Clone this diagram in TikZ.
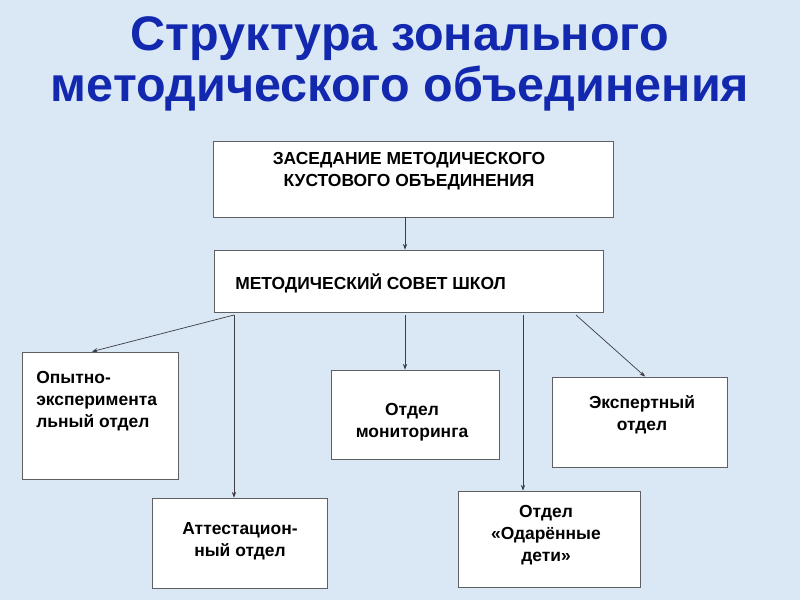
\documentclass[tikz,border=0pt]{standalone}
\usepackage{fontspec}
\setmainfont{Liberation Sans}
\usepackage{xcolor}
\usepackage{tikz}
\usetikzlibrary{arrows.meta, positioning, calc}
\definecolor{mybg}{RGB}{218,231,245}
\definecolor{mytitle}{RGB}{18,40,175}
\definecolor{myframe}{RGB}{95,95,100}
\definecolor{mydark}{RGB}{60,60,65}
\tikzset{
  block/.style={rectangle, draw=myframe, fill=white, line width=0.6pt,
    inner sep=0pt},
  blocktext/.style={font=\bfseries\fontsize{12.4}{15.8}\selectfont,
    align=center, inner sep=0pt, text=black},
  arrow/.style={-{Stealth[length=4pt, width=3pt]}, line width=0.5pt, color=mydark}
}

\begin{document}
\begin{tikzpicture}[x=0.025cm, y=-0.025cm]
  % background
  \fill[mybg] (0, 0) rectangle (800, 600);
  \useasboundingbox (0, 0) rectangle (800, 600);

  % Title
  \node[font=\bfseries\fontsize{34.5}{36.5}\selectfont, text=mytitle, align=center]
    (title) at (400, 64) {Структура зонального\\методического объединения};

  % Zasedanie
  \node[block, minimum width=10cm, minimum height=1.9cm] (zas) at (413, 179) {};
  \node[blocktext] (zastext) at (409, 171)
    {ЗАСЕДАНИЕ МЕТОДИЧЕСКОГО\\КУСТОВОГО ОБЪЕДИНЕНИЯ};

  % Council
  \node[block, minimum width=9.725cm, minimum height=1.55cm] (sovet) at (408.5, 281) {};
  \node[blocktext, anchor=west] (sovettext) at (235, 283) {МЕТОДИЧЕСКИЙ СОВЕТ ШКОЛ};

  % Departments
  \node[block, minimum width=3.9cm, minimum height=3.175cm] (opyt) at (100, 415.5) {};
  \node[blocktext, anchor=west, align=left] (opyttext) at (36, 401)
    {Опытно-\\эксперимента\\льный отдел};

  \node[block, minimum width=4.375cm, minimum height=2.25cm] (attest) at (239.5, 543) {};
  \node[blocktext] (attesttext) at (240, 541) {Аттестацион-\\ный отдел};

  \node[block, minimum width=4.2cm, minimum height=2.225cm] (monit) at (415, 414.5) {};
  \node[blocktext] (monittext) at (412, 422) {Отдел\\мониторинга};

  \node[block, minimum width=4.375cm, minimum height=2.25cm] (expert) at (639.5, 422) {};
  \node[blocktext] (experttext) at (642, 415) {Экспертный\\отдел};

  \node[block, minimum width=4.55cm, minimum height=2.4cm] (odar) at (549, 539) {};
  \node[blocktext] (odartext) at (546, 535) {Отдел\\«Одарённые\\дети»};

  % Connectors
  \coordinate (c1) at (234, 315);
  \coordinate (c2) at (405, 315);
  \coordinate (c3) at (523, 315);
  \coordinate (c4) at (576, 315);

  \draw[arrow] (zas.south -| c2) -- (sovet.north -| c2);
  \draw[arrow] (c1) -- ([xshift=-0.2cm]opyt.north);
  \draw[arrow] (c1) -- (c1 |- attest.north);
  \draw[arrow] (c2) -- (c2 |- monit.north);
  \draw[arrow] (c3) -- (c3 |- odar.north);
  \draw[arrow] (c4) -- ([xshift=0.14cm]expert.north);
\end{tikzpicture}
\end{document}
